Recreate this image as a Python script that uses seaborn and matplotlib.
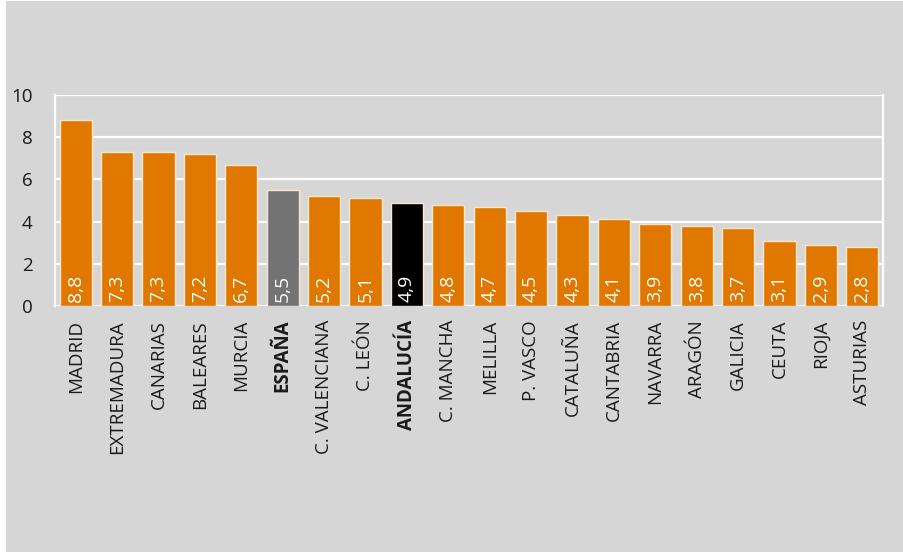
import matplotlib
matplotlib.use("Agg")
import matplotlib.pyplot as plt
from matplotlib.patches import Rectangle
import seaborn as sns
import pandas as pd

regions = ["MADRID", "EXTREMADURA", "CANARIAS", "BALEARES", "MURCIA", "ESPAÑA",
           "C. VALENCIANA", "C. LEÓN", "ANDALUCÍA", "C. MANCHA", "MELILLA", "P. VASCO",
           "CATALUÑA", "CANTABRIA", "NAVARRA", "ARAGÓN", "GALICIA", "CEUTA", "RIOJA",
           "ASTURIAS"]
values = [8.8, 7.3, 7.3, 7.2, 6.7, 5.5, 5.2, 5.1, 4.9, 4.8, 4.7, 4.5, 4.3, 4.1,
          3.9, 3.8, 3.7, 3.1, 2.9, 2.8]
highlight = {"ESPAÑA": "#737373", "ANDALUCÍA": "#000000"}
yticks = [0, 2, 4, 6, 8, 10]

ORANGE = "#e07800"
BG = "#d6d6d6"
TEXT = "#1a1a1a"

sns.set_theme(style="white")
plt.rcParams["font.family"] = ["Open Sans", "DejaVu Sans"]

df = pd.DataFrame({"region": regions, "value": values})
palette = [highlight.get(r, ORANGE) for r in regions]

fig = plt.figure(figsize=(9.04, 5.53), dpi=100)
fig.patch.set_facecolor("white")
fig.patches.append(Rectangle((6 / 904, 1 / 553), 898 / 904, 551 / 553,
                             transform=fig.transFigure, facecolor=BG,
                             edgecolor="none", zorder=-10))

ax = fig.add_axes([55 / 904, 1 - 306 / 553, 828 / 904, 211 / 553])
ax.set_facecolor(BG)

sns.barplot(data=df, x="region", y="value", hue="region", palette=palette,
            saturation=1, legend=False, width=0.78, ax=ax,
            edgecolor="#fbe6c8", linewidth=1.0, zorder=3)

ax.set_ylim(0, 10)
ax.set_xlim(-0.5, len(regions) - 0.5)
ax.set_yticks(yticks)
ax.set_yticklabels([str(t) for t in yticks], fontsize=13.5, color=TEXT)
ax.yaxis.grid(True, color="white", linewidth=1.6, zorder=1)
ax.set_axisbelow(True)

for side in ["top", "bottom"]:
    ax.spines[side].set_visible(False)
for side in ["left", "right"]:
    ax.spines[side].set_color("white")
    ax.spines[side].set_linewidth(1.6)

ax.tick_params(axis="y", length=0, pad=16)
ax.tick_params(axis="x", length=0, pad=10)
ax.set_xlabel("")
ax.set_ylabel("")
ax.set_xticks(range(len(regions)))
ax.set_xticklabels(regions, rotation=90, fontsize=13.5, color=TEXT,
                   ha="center", va="top")

# Spain and Andalusia get bold category labels
for lbl in ax.get_xticklabels():
    if lbl.get_text() in highlight:
        lbl.set_fontweight("bold")

for i, v in enumerate(values):
    ax.text(i, 0.18, f"{v:.1f}".replace(".", ","), rotation=90, ha="center",
            va="bottom", color="white", fontsize=14, zorder=5)

fig.savefig("out.png", dpi=100, facecolor=fig.get_facecolor())
